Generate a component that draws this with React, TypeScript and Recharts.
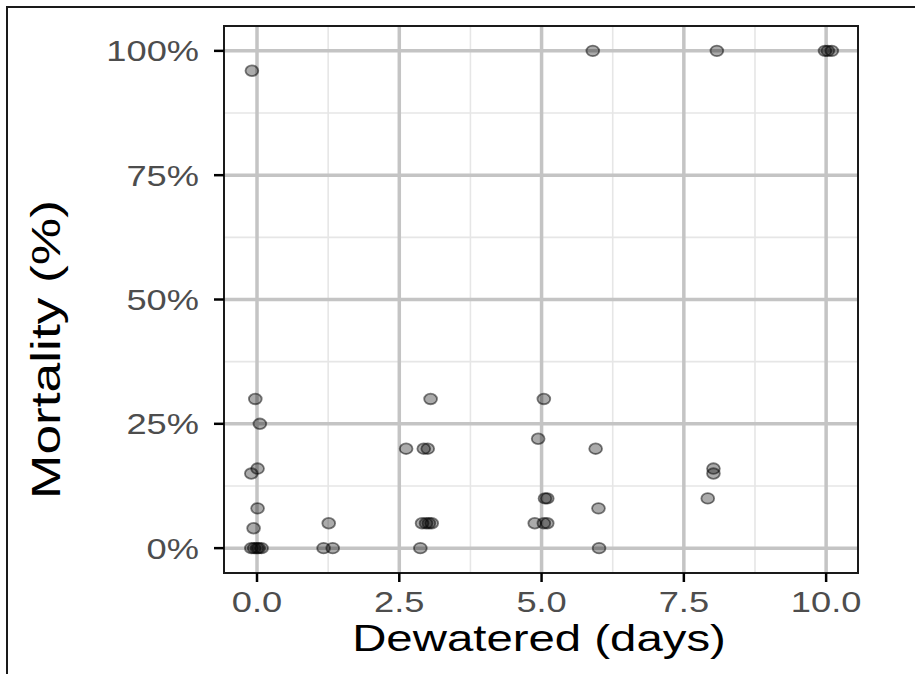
import React from "react";
import {
  ScatterChart,
  Scatter,
  XAxis,
  YAxis,
  CartesianGrid,
  ReferenceArea,
} from "recharts";

// Dewatered (days) and Mortality (%) for each observation
const daysNear0 = [-0.09, -0.03, 0.05, 0.01, -0.1, 0.01, -0.06, -0.1, -0.05, 0.0, 0.03, 0.08];
const mortNear0 = [96, 30, 25, 16, 15, 8, 4, 0, 0, 0, 0, 0];
const daysNear1 = [1.26, 1.17, 1.33];
const mortNear1 = [5, 0, 0];
const daysNear3 = [2.62, 2.93, 3.0, 3.05, 2.87, 2.9, 2.97, 3.02, 3.07];
const mortNear3 = [20, 20, 20, 30, 0, 5, 5, 5, 5];
const daysNear5 = [5.04, 4.94, 5.06, 5.1, 4.88, 5.04, 5.1, 5.9, 5.95, 6.0, 6.01];
const mortNear5 = [30, 22, 10, 10, 5, 5, 5, 100, 20, 8, 0];
const daysNear8 = [8.08, 8.02, 8.02, 7.92];
const mortNear8 = [100, 16, 15, 10];
const daysNear10 = [9.98, 10.03, 10.1];
const mortNear10 = [100, 100, 100];

const xTicks = [0, 2.5, 5, 7.5, 10];
const xMinor = [1.25, 3.75, 6.25, 8.75];
const yTicks = [0, 25, 50, 75, 100];
const yMinor = [12.5, 37.5, 62.5, 87.5];
const xDomain: [number, number] = [-0.58, 10.56];
const yDomain: [number, number] = [-5, 105];

const allDays = [...daysNear0, ...daysNear1, ...daysNear3, ...daysNear5, ...daysNear8, ...daysNear10];
const allMort = [...mortNear0, ...mortNear1, ...mortNear3, ...mortNear5, ...mortNear8, ...mortNear10];
const points = allDays.map((d, i) => ({ days: d, mortality: allMort[i] }));

const FONT = "'Liberation Sans', Arial, Helvetica, sans-serif";
const SX = 1.25;

const YTick = (props: any) => {
  const { x, y, payload } = props;
  return (
    <text
      transform={`translate(${x},${y}) scale(${SX},1)`}
      textAnchor="end"
      dy="0.36em"
      fontSize={29}
      fill="#4d4d4d"
      fontFamily={FONT}
    >
      {`${payload.value}%`}
    </text>
  );
};

const XTick = (props: any) => {
  const { x, y, payload } = props;
  return (
    <text
      transform={`translate(${x},${y}) scale(${SX},1)`}
      textAnchor="middle"
      dy="0.75em"
      fontSize={29}
      fill="#4d4d4d"
      fontFamily={FONT}
    >
      {Number(payload.value).toFixed(1)}
    </text>
  );
};

const XTitle = (props: any) => {
  const vb = props.viewBox || {};
  const cx = vb.x + vb.width / 2 - 2;
  const cy = vb.y + 78;
  return (
    <text
      transform={`translate(${cx},${cy}) scale(1.28,1)`}
      textAnchor="middle"
      fontSize={37}
      fill="#000"
      fontFamily={FONT}
    >
      Dewatered (days)
    </text>
  );
};

const YTitle = (props: any) => {
  const vb = props.viewBox || {};
  const cx = vb.x + 60;
  const cy = vb.y + vb.height / 2 + 50;
  return (
    <text
      transform={`translate(${cx},${cy}) rotate(-90) scale(1.3,1)`}
      textAnchor="middle"
      fontSize={41}
      fill="#000"
      fontFamily={FONT}
    >
      Mortality (%)
    </text>
  );
};

const Dot = (props: any) => {
  const { cx, cy } = props;
  return (
    <ellipse
      cx={cx}
      cy={cy}
      rx={6.4}
      ry={5.3}
      fill="#000"
      fillOpacity={0.33}
      stroke="#000"
      strokeOpacity={0.5}
      strokeWidth={1.8}
    />
  );
};

export default function App() {
  return (
    <div
      style={{
        position: "absolute",
        left: 0,
        top: 0,
        width: 915,
        height: 674,
        background: "#fff",
        overflow: "hidden",
      }}
    >
      <div
        style={{
          position: "absolute",
          left: 6,
          top: 6,
          width: 920,
          height: 680,
          borderTop: "2px solid #1a1a1a",
          borderLeft: "2px solid #1a1a1a",
          boxSizing: "border-box",
        }}
      />
      <div style={{ position: "absolute", left: 0, top: 0 }}>
        <ScatterChart
          width={915}
          height={674}
          margin={{ top: 26, right: 57, bottom: 0, left: 0 }}
        >
          <CartesianGrid
            horizontalValues={yMinor}
            verticalValues={xMinor}
            stroke="#e6e6e6"
            strokeWidth={1.6}
          />
          <CartesianGrid
            horizontalValues={yTicks}
            verticalValues={xTicks}
            stroke="#c4c4c4"
            strokeWidth={3.5}
          />
          <XAxis
            type="number"
            dataKey="days"
            domain={xDomain}
            ticks={xTicks}
            allowDataOverflow
            height={101}
            axisLine={false}
            tickSize={9}
            tickMargin={8}
            tickLine={{ stroke: "#000", strokeWidth: 2.5 }}
            tick={<XTick />}
            interval={0}
            label={{ content: <XTitle /> }}
          />
          <YAxis
            type="number"
            dataKey="mortality"
            domain={yDomain}
            ticks={yTicks}
            allowDataOverflow
            width={224}
            axisLine={false}
            tickSize={10}
            tickMargin={15}
            tickLine={{ stroke: "#000", strokeWidth: 2.5 }}
            tick={<YTick />}
            interval={0}
            label={{ content: <YTitle /> }}
          />
          <Scatter
            data={points}
            shape={<Dot />}
            isAnimationActive={false}
          />
          <ReferenceArea
            x1={xDomain[0]}
            x2={xDomain[1]}
            y1={yDomain[0]}
            y2={yDomain[1]}
            fill="none"
            fillOpacity={0}
            stroke="#1a1a1a"
            strokeWidth={2}
            ifOverflow="visible"
          />
        </ScatterChart>
      </div>
    </div>
  );
}
